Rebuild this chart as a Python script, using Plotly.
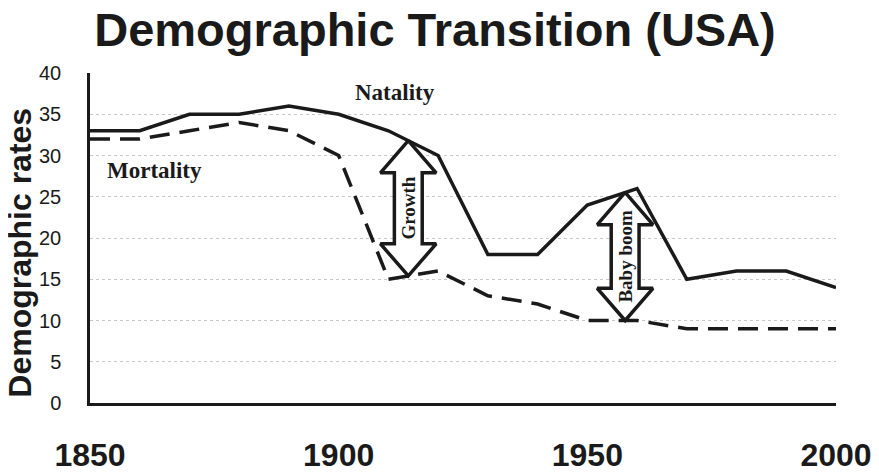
import plotly.graph_objects as go
import numpy as np

# dados
anos = [1850, 1860, 1870, 1880, 1890, 1900, 1910, 1920, 1930, 1940, 1950, 1960, 1970, 1980, 1990, 2000]
natalidade = [33, 33, 35, 35, 36, 35, 33, 30, 18, 18, 24, 26, 15, 16, 16, 14]
mortalidade = [32, 32, 33, 34, 33, 30, 15, 16, 13, 12, 10, 10, 9, 9, 9, 9]
y_ticks = [0, 5, 10, 15, 20, 25, 30, 35, 40]
x_ticks = [1850, 1900, 1950, 2000]
setas = [("Growth", 1914.0), ("Baby boom", 1957.6)]

SANS = "Liberation Sans, Arial, sans-serif"
SERIF = "Liberation Serif, Times New Roman, serif"
PT = "#1a1a1a"
W, H = 871, 464  # cabe na janela 879x472 com os 8px de margem do body


def _seta(x0, y_bot, y_top, hw=5.6, sw=2.8, hh=3.9):
    # seta dupla oca (poligono em coordenadas de dados)
    xs = [x0, x0 + hw, x0 + sw, x0 + sw, x0 + hw, x0, x0 - hw, x0 - sw, x0 - sw, x0 - hw, x0]
    ys = [y_top, y_top - hh, y_top - hh, y_bot + hh, y_bot + hh, y_bot,
          y_bot + hh, y_bot + hh, y_top - hh, y_top - hh, y_top]
    return xs, ys


fig = go.Figure()
fig.add_trace(go.Scatter(x=anos, y=natalidade, mode="lines", name="Natality",
                         line=dict(color=PT, width=3.5)))
fig.add_trace(go.Scatter(x=anos, y=mortalidade, mode="lines", name="Mortality",
                         line=dict(color=PT, width=3.5, dash="20px,10px")))

for txt, xa in setas:
    top = float(np.interp(xa, anos, natalidade))
    bot = float(np.interp(xa, anos, mortalidade))
    xs, ys = _seta(xa, bot, top)
    fig.add_trace(go.Scatter(x=xs, y=ys, mode="lines", fill="toself",
                             fillcolor="white", line=dict(color=PT, width=3.5),
                             hoverinfo="skip"))
    fig.add_annotation(x=xa, y=(top + bot) / 2, text=f"<b>{txt}</b>", textangle=-90,
                       showarrow=False, font=dict(family=SERIF, size=19, color=PT))

fig.add_annotation(x=1911.3, y=37.6, text="<b>Natality</b>", showarrow=False,
                   font=dict(family=SERIF, size=23, color=PT))
fig.add_annotation(x=1863, y=28.2, text="<b>Mortality</b>", showarrow=False,
                   font=dict(family=SERIF, size=23, color=PT))
# titulo do eixo y (um pouco abaixo do centro, como no original)
fig.add_annotation(x=-0.094, y=0.455, xref="paper", yref="paper", xanchor="center",
                   yanchor="middle", text="<b>Demographic rates</b>", textangle=-90,
                   showarrow=False, font=dict(family=SANS, size=32, color=PT))

fig.update_layout(
    width=W, height=H, showlegend=False,
    paper_bgcolor="white", plot_bgcolor="white",
    margin=dict(l=82, r=43, t=65, b=69),
    title=dict(text="<b>Demographic Transition (USA)</b>", x=427 / W, xref="container",
               xanchor="center", y=1 - 22 / H, yref="container", yanchor="middle",
               font=dict(family=SANS, size=47, color=PT)),
)
fig.update_xaxes(range=[1850, 2000], tickvals=x_ticks, ticktext=[f"<b>{v}</b>" for v in x_ticks],
                 showline=True, linecolor=PT, linewidth=2.5, showgrid=False, zeroline=False,
                 automargin=False, ticks="", ticklabelstandoff=22,
                 tickfont=dict(family=SANS, size=32, color=PT))
fig.update_yaxes(range=[0, 40], tickvals=y_ticks, showline=True, linecolor=PT, linewidth=2.5,
                 showgrid=True, gridcolor="#c8c8c8", griddash="dot", gridwidth=1, zeroline=False,
                 automargin=False, ticks="", ticklabelstandoff=22,
                 tickfont=dict(family=SANS, size=20, color=PT))

fig.write_html("out.html")
